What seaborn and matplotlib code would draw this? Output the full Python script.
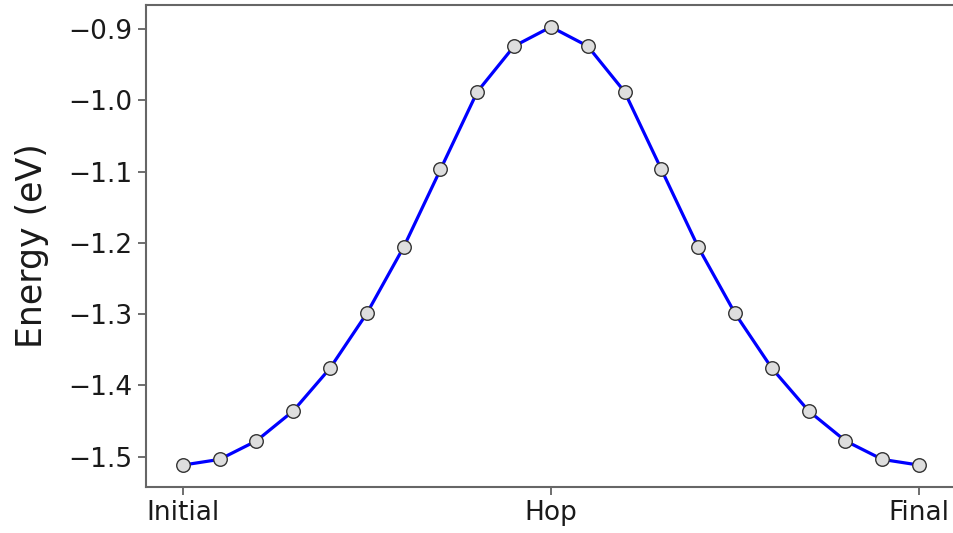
import matplotlib
matplotlib.use("Agg")
import matplotlib.pyplot as plt
import seaborn as sns
import pandas as pd

image_index = list(range(21))
energy = [-1.512, -1.504, -1.478, -1.436, -1.376, -1.299, -1.206, -1.097, -0.988, -0.924, -0.897,
          -0.924, -0.988, -1.097, -1.206, -1.299, -1.376, -1.436, -1.478, -1.504, -1.512]
tick_positions = [0, 10, 20]
tick_labels = ["Initial", "Hop", "Final"]

df = pd.DataFrame({"image": image_index, "energy": energy})

sns.set_style("ticks")
plt.rcParams['font.family'] = ['DejaVu Sans']

fig = plt.figure(figsize=(9.54, 5.33), dpi=100)
ax = fig.add_axes([0.153, 0.0863, 0.849, 0.9043])

sns.lineplot(data=df, x="image", y="energy", ax=ax, color="blue", linewidth=2.3, zorder=2)
sns.scatterplot(data=df, x="image", y="energy", ax=ax, s=95, color="#dedede",
                edgecolor="#333333", linewidth=1.0, zorder=3)

ax.set_xticks(tick_positions)
ax.set_xticklabels(tick_labels)
ax.set_xlabel("")
ax.set_ylabel("Energy (eV)", fontsize=25, labelpad=14, color="#1a1a1a")
ax.margins(x=0.05, y=0.05)
ax.tick_params(axis="both", labelsize=19, length=6, width=1.2, color="#555555",
               labelcolor="#1a1a1a")
for name, s in ax.spines.items():
    s.set_color("#666666")
    s.set_linewidth(1.5)
    s.set_visible(name != "right")

fig.savefig("out.png", dpi=100)
